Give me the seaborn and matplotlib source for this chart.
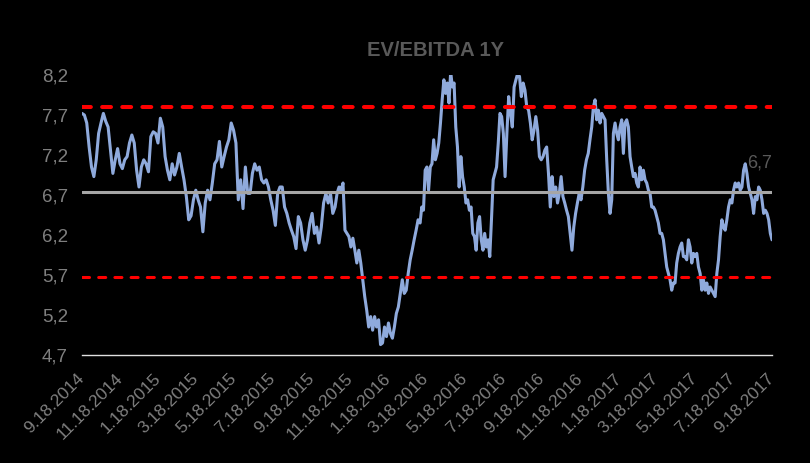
import matplotlib
matplotlib.use("Agg")
import matplotlib.pyplot as plt
import numpy as np
import pandas as pd
import seaborn as sns

# ---- data ----
seg_bounds = ["2014-09-18", "2015-01-28", "2015-06-12", "2015-10-25", "2016-03-08",
              "2016-07-21", "2016-12-03", "2017-04-17", "2017-09-18"]

seg1 = [7.72, 7.70, 7.60, 7.30, 7.05, 6.93, 7.14, 7.47, 7.60, 7.72, 7.62, 7.55, 7.26, 6.97,
        7.14, 7.28, 7.09, 7.03, 7.14, 7.18, 7.35, 7.45, 7.35, 7.01, 6.80, 7.05, 7.14, 7.09,
        6.99, 7.43, 7.49, 7.47, 7.35, 7.66, 7.55]
seg2 = [7.18, 7.01, 6.89, 7.09, 6.95, 7.05, 7.22, 7.05, 6.89, 6.68, 6.39, 6.44, 6.64, 6.76,
        6.64, 6.55, 6.24, 6.60, 6.76, 6.64, 6.85, 7.09, 7.14, 7.37, 7.05, 7.18, 7.30, 7.39,
        7.60, 7.51, 7.35, 6.64, 6.89, 6.53, 7.05, 6.72]
seg3 = [6.72, 6.97, 7.09, 7.01, 7.05, 6.89, 6.85, 6.89, 6.80, 6.64, 6.51, 6.32, 6.72, 6.80,
        6.80, 6.55, 6.47, 6.35, 6.26, 6.18, 6.03, 6.43, 6.35, 6.14, 6.01, 6.14, 6.35, 6.47,
        6.22, 6.30, 6.10, 6.30, 6.60, 6.72, 6.60, 6.72, 6.47]
seg4 = [6.55, 6.72, 6.80, 6.76, 6.85, 6.26, 6.22, 6.18, 6.05, 6.16, 6.01, 5.85, 6.01, 5.85,
        5.64, 5.43, 5.26, 5.05, 5.18, 5.01, 5.18, 5.05, 5.14, 4.83, 4.85, 5.05, 4.93, 5.10,
        4.97, 4.91, 5.05, 5.22, 5.30, 5.47, 5.64, 5.47, 5.51, 5.72, 5.89, 6.01, 6.14, 6.26,
        6.39]
seg5 = [6.35, 6.55, 6.51, 7.01, 7.05, 6.76, 7.05, 7.09, 7.39, 7.14, 7.22, 7.35, 7.60, 7.89,
        8.14, 7.97, 8.10, 7.85, 8.24, 8.05, 8.10, 7.55, 7.30, 6.80, 7.18, 6.93, 6.80, 6.60,
        6.64, 6.51, 6.55, 6.22, 6.18, 6.01, 6.35, 6.43, 6.14, 6.01, 6.22, 6.05, 6.14, 5.93,
        6.39, 6.89, 6.97, 7.05, 7.35, 7.72, 7.68, 7.47]
seg6 = [6.93, 7.47, 7.93, 7.72, 7.55, 8.05, 8.14, 8.22, 8.18, 7.93, 8.10, 8.01, 7.80, 7.76,
        7.60, 7.39, 7.51, 7.68, 7.51, 7.18, 7.14, 7.18, 7.26, 7.30, 6.97, 6.55, 6.93, 6.68,
        6.80, 6.60, 6.72, 6.93, 6.68, 6.60, 6.51, 6.43, 6.22, 6.01, 6.30, 6.47, 6.60, 6.72,
        6.64, 6.80, 7.01, 7.14, 7.22]
seg7 = [7.40, 7.55, 7.80, 7.89, 7.64, 7.76, 7.60, 7.72, 7.68, 7.64, 7.14, 6.72, 6.47, 6.64,
        7.47, 7.60, 7.47, 7.39, 7.55, 7.64, 7.22, 7.60, 7.64, 7.55, 7.18, 7.05, 6.93, 6.97,
        6.85, 6.80, 7.05, 6.89, 7.01, 6.89, 6.85, 6.76, 6.72, 6.55, 6.55, 6.51, 6.43, 6.35,
        6.22, 6.22, 6.14, 5.97, 5.80, 5.72, 5.64, 5.51, 5.60]
seg8 = [5.60, 5.85, 5.97, 6.05, 6.10, 5.93, 5.93, 5.89, 6.14, 6.05, 5.85, 5.97, 5.93, 5.97,
        5.80, 5.72, 5.51, 5.64, 5.51, 5.60, 5.47, 5.55, 5.51, 5.47, 5.43, 5.72, 5.89, 6.18,
        6.39, 6.30, 6.26, 6.39, 6.55, 6.64, 6.60, 6.76, 6.85, 6.80, 6.85, 6.76, 6.80, 7.01,
        7.09, 6.97, 6.80, 6.72, 6.64, 6.47, 6.68, 6.64, 6.80, 6.76, 6.64, 6.47, 6.51, 6.47,
        6.39, 6.22, 6.14]

mean_level = 6.74
upper_band = 7.80
lower_band = 5.68
y_ticks = [4.7, 5.2, 5.7, 6.2, 6.7, 7.2, 7.7, 8.2]
title = "EV/EBITDA 1Y"

# ---- build frame ----
segments = [seg1, seg2, seg3, seg4, seg5, seg6, seg7, seg8]
dates, vals = [], []
for i, seg in enumerate(segments):
    last = i == len(segments) - 1
    rng = pd.date_range(seg_bounds[i], seg_bounds[i + 1], periods=len(seg) + (0 if last else 1))
    if not last:
        rng = rng[:-1]
    dates.extend(rng)
    vals.extend(seg)
df = pd.DataFrame({"date": dates, "value": vals})

tick_dates = pd.date_range(seg_bounds[0], seg_bounds[-1], freq=pd.DateOffset(months=2))
tick_labels = [f"{d.month}.{d.day}.{d.year}" for d in tick_dates]

# ---- style ----
sns.set_style("dark", rc={"axes.facecolor": "black", "figure.facecolor": "black",
                          "axes.grid": False})
plt.rcParams["font.family"] = ["Liberation Sans", "DejaVu Sans"]

fig = plt.figure(figsize=(8.1, 4.63), dpi=100, facecolor="black")
ax = fig.add_axes([82 / 810, 108 / 463, 690 / 810, 280 / 463])
ax.set_facecolor("black")

sns.lineplot(data=df, x="date", y="value", color="#8FAADC", linewidth=2.2, ax=ax, zorder=2)
ax.axhline(mean_level, color="#A6A6A6", linewidth=2.2, zorder=3)
ax.axhline(upper_band, color="#FF0000", linewidth=2.9, dashes=(2.2, 2.8),
           dash_capstyle="round", zorder=4)
ax.axhline(lower_band, color="#FF0000", linewidth=2.2, dashes=(2.3, 3.0),
           dash_capstyle="round", zorder=4)

ax.set_xlim(pd.Timestamp(seg_bounds[0]), pd.Timestamp(seg_bounds[-1]))
ax.set_ylim(y_ticks[0], y_ticks[-1])

ax.set_yticks(y_ticks)
ax.set_yticklabels([f"{v:.1f}".replace(".", ",") for v in y_ticks],
                   color="#7F7F7F", fontsize=13.5)
ax.set_xticks(tick_dates)
ax.set_xticklabels(tick_labels, rotation=45, ha="right", va="center",
                   rotation_mode="anchor", color="#7F7F7F", fontsize=12.5)
ax.tick_params(axis="y", length=0, pad=10)
ax.tick_params(axis="x", length=0, pad=15)
ax.set_xlabel("")
ax.set_ylabel("")

for s in ["left", "right", "top"]:
    ax.spines[s].set_visible(False)
ax.spines["bottom"].set_color("#E0E0E0")
ax.spines["bottom"].set_linewidth(1.0)

ax.text(pd.Timestamp(seg_bounds[-1]), 7.1, f"{mean_level:.1f}".replace(".", ","),
        ha="right", va="center", color="#595959", fontsize=13)

fig.text(435 / 810, 1 - 50 / 463, title, ha="center", va="center",
         fontsize=14.5, fontweight="bold", color="#595959")

fig.savefig("out.png", dpi=100, facecolor="black")
